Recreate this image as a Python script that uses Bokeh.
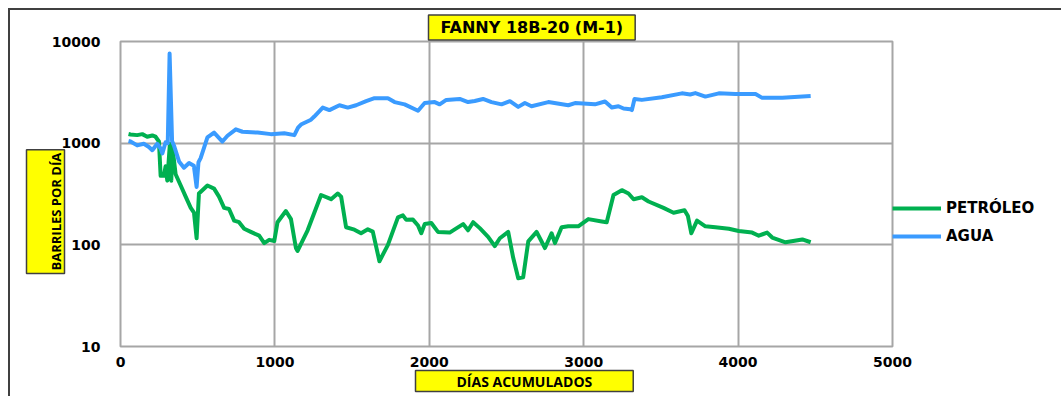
from bokeh.plotting import figure
from bokeh.layouts import column
from bokeh.models import Range1d, FixedTicker, Legend, LegendItem, PrintfTickFormatter, Title
from bokeh.embed import file_html
from bokeh.resources import INLINE

# ---------------- data ----------------
title_text = "FANNY 18B-20 (M-1)"
x_label_text = "DÍAS ACUMULADOS"
y_label_text = "BARRILES POR DÍA"
series_names = ["PETRÓLEO", "AGUA"]
x_ticks = [0, 1000, 2000, 3000, 4000, 5000]
y_ticks = [10, 100, 1000, 10000]

oil_days = [52, 65, 108, 141, 173, 206, 227, 249, 260, 281, 292, 303, 320, 329, 335,
            357, 390, 422, 455, 476, 493, 508, 563, 606, 638, 671, 703, 736, 768, 801,
            844, 898, 931, 963, 996, 1017, 1071, 1104, 1136, 1147, 1212, 1299, 1364,
            1407, 1429, 1461, 1515, 1558, 1602, 1634, 1677, 1732, 1797, 1829, 1851,
            1894, 1927, 1948, 1970, 2013, 2056, 2132, 2175, 2219, 2251, 2284, 2327,
            2381, 2424, 2457, 2511, 2543, 2576, 2608, 2641, 2695, 2749, 2792, 2814,
            2857, 2900, 2965, 3030, 3117, 3149, 3193, 3247, 3290, 3323, 3377, 3420,
            3517, 3582, 3653, 3675, 3697, 3734, 3788, 3853, 3940, 4004, 4091, 4134,
            4188, 4221, 4307, 4416, 4470]
oil_bpd = [1230, 1217, 1200, 1227, 1157, 1190, 1157, 1038, 477, 477, 593, 428, 987, 428, 950,
           495, 383, 298, 231, 207, 116, 320, 383, 357, 298, 231, 225, 173, 167, 144,
           134, 123, 104, 112, 109, 167, 215, 179, 93, 87, 139, 309, 281,
           320, 298, 149, 141, 130, 142, 135, 69, 100, 186, 195, 176,
           177, 155, 130, 160, 164, 134, 132, 145, 160, 139, 167, 146,
           120, 97, 116, 134, 75, 47, 48, 108, 134, 93, 130, 104,
           149, 152, 152, 179, 170, 167, 309, 345, 320, 281, 294, 267,
           231, 207, 219, 192, 130, 173, 152, 149, 144, 137, 132, 123,
           132, 118, 106, 113, 106]

water_days = [52, 65, 108, 151, 184, 206, 238, 260, 271, 292, 306, 318, 334, 346, 379,
              411, 444, 475, 493, 505, 519, 563, 606, 660, 693, 747, 790, 888, 974,
              1061, 1126, 1150, 1169, 1234, 1255, 1310, 1353, 1418, 1472, 1526, 1591,
              1645, 1732, 1775, 1840, 1927, 1970, 2035, 2067, 2110, 2197, 2251, 2294,
              2348, 2403, 2468, 2522, 2576, 2619, 2662, 2771, 2900, 2944, 3073, 3138,
              3182, 3225, 3258, 3301, 3312, 3329, 3377, 3506, 3636, 3690, 3723, 3788,
              3875, 3983, 4113, 4156, 4286, 4470]
water_bpd = [1050, 1038, 951, 987, 917, 853, 987, 885, 794, 1022, 1000, 7600, 1050, 950, 661,
             573, 638, 600, 371, 650, 712, 1140, 1271, 1038, 1183, 1368, 1295, 1271, 1227,
             1250, 1200, 1420, 1524, 1702, 1828, 2240, 2115, 2360, 2240, 2360, 2590,
             2770, 2770, 2535, 2410, 2085, 2480, 2535, 2410, 2665, 2720, 2535, 2600,
             2720, 2535, 2410, 2590, 2275, 2480, 2310, 2535, 2360, 2480, 2410, 2570,
             2240, 2310, 2190, 2160, 2115, 2720, 2665, 2830, 3090, 3010, 3110, 2870,
             3090, 3040, 3040, 2790, 2790, 2910]

# ---------------- styling ----------------
GRID = "#a6a6a6"
GREEN = "#00b050"
BLUE = "#3a9bff"
YELLOW = "#ffff00"
BORDER = "#404040"

p = figure(frame_width=770, frame_height=303, y_axis_type="log",
           x_range=Range1d(0, 5000), y_range=Range1d(10, 10000),
           output_backend="svg", toolbar_location=None,
           min_border_left=110, min_border_right=155,
           min_border_top=31, min_border_bottom=52)
p.styles = {"border-top": f"2px solid {BORDER}", "border-left": f"2px solid {BORDER}"}
p.background_fill_color = "white"
p.border_fill_color = "white"
p.outline_line_color = GRID
p.outline_line_width = 2

p.xaxis.ticker = FixedTicker(ticks=x_ticks)
p.yaxis.ticker = FixedTicker(ticks=y_ticks)
p.yaxis.formatter = PrintfTickFormatter(format="%d")
for ax in (p.xaxis, p.yaxis):
    ax.axis_line_color = None
    ax.major_tick_line_color = None
    ax.minor_tick_line_color = None
    ax.major_tick_out = 0
    ax.major_tick_in = 0
    ax.major_label_text_font = "DejaVu Sans"
    ax.major_label_text_font_style = "bold"
    ax.major_label_text_font_size = "14px"
    ax.major_label_text_color = "black"
p.xaxis.major_label_standoff = 10
p.yaxis.major_label_standoff = 20

p.xgrid.grid_line_color = GRID
p.ygrid.grid_line_color = GRID
p.xgrid.grid_line_width = 2
p.ygrid.grid_line_width = 2
p.ygrid.minor_grid_line_color = None

r_oil = p.line(oil_days, oil_bpd, line_width=4, line_color=GREEN, line_join="round")
r_water = p.line(water_days, water_bpd, line_width=4, line_color=BLUE, line_join="round")
# invisible spacer renderer, only used to push the legend entries down
r_blank = p.line([], [], line_alpha=0)

legend = Legend(items=[LegendItem(label=" ", renderers=[r_blank]),
                       LegendItem(label=" ", renderers=[r_blank]),
                       LegendItem(label=series_names[0], renderers=[r_oil]),
                       LegendItem(label=series_names[1], renderers=[r_water])],
                location="center_left", orientation="vertical",
                border_line_color=None, background_fill_alpha=0,
                padding=0, margin=0, spacing=8,
                glyph_width=49, glyph_height=20, label_height=20, label_standoff=5,
                label_text_font="DejaVu Sans", label_text_font_style="bold",
                label_text_font_size="15px", label_text_color="black")
p.add_layout(legend, "right")


def boxed(text, font, size, pad, offset, valign, standoff):
    return Title(text=text, text_font=font, text_font_size=size, text_font_style="bold",
                 text_color="black", align="left", offset=offset,
                 vertical_align=valign, standoff=standoff,
                 background_fill_color=YELLOW, border_line_color=BORDER,
                 border_line_width=1.5, padding=pad)


p.add_layout(boxed(title_text, "DejaVu Sans", "16px",
                   dict(left=12, right=12, top=3, bottom=3), 308, "bottom", 3), "above")
p.add_layout(boxed(x_label_text, "Open Sans", "14px",
                   dict(left=41, right=41, top=1, bottom=1), 295, "top", 2), "below")
try:
    y_title = boxed(y_label_text, "Open Sans", "13px",
                    dict(left=3, right=3, top=20, bottom=0), 73, "bottom", -32)
except Exception:
    y_title = boxed(y_label_text, "Open Sans", "13px",
                    dict(left=3, right=3, top=20, bottom=0), 73, "bottom", 0)
p.add_layout(y_title, "left")

layout = column(p, styles={"padding-left": "8px", "padding-top": "8px",
                           "background-color": "white"})

open("out.html", "w").write(file_html(layout, INLINE))
